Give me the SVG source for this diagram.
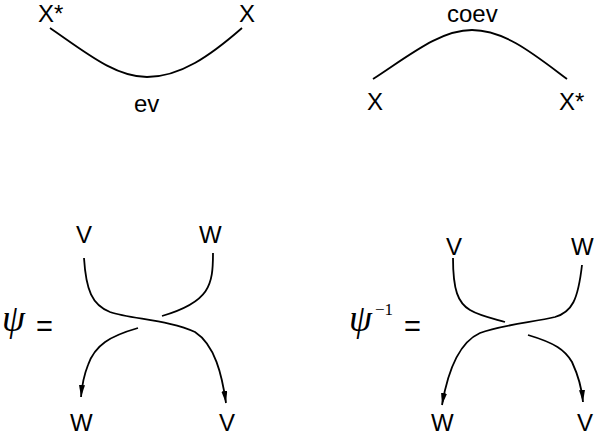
<svg xmlns="http://www.w3.org/2000/svg" width="594" height="437" viewBox="0 0 594 437">
<style>
.lbl{font-family:"Liberation Sans",Arial,sans-serif;font-size:24px;fill:#000}
.psi{font-family:"Liberation Serif","Times New Roman",serif;font-style:italic;font-size:37px;fill:#000}
.eq{font-family:"Liberation Sans",Arial,sans-serif;font-size:29px;fill:#000}
.sup{font-family:"Liberation Serif","Times New Roman",serif;font-size:17px;fill:#000}
.str{fill:none;stroke:#000;stroke-width:1.8;stroke-linecap:butt}
</style>
<defs>
<marker id="arr" markerUnits="userSpaceOnUse" markerWidth="13" markerHeight="7" refX="12" refY="3" orient="auto">
<path d="M0,0 L12,3 L0,6 z" fill="#000"/>
</marker>
</defs>
<g id="ev">
<text class="lbl" x="38" y="22">X*</text>
<text class="lbl" x="239" y="22">X</text>
<text class="lbl" x="134" y="112">ev</text>
</g>
<g id="coev">
<text class="lbl" x="447" y="22">coev</text>
<text class="lbl" x="367" y="110">X</text>
<text class="lbl" x="559" y="110">X*</text>
</g>
<g id="psi">
<text class="psi" x="2" y="331">ψ</text>
<text class="eq" x="36" y="336">=</text>
<text class="lbl" x="76" y="243">V</text>
<text class="lbl" x="199" y="243">W</text>
<text class="lbl" x="70" y="431">W</text>
<text class="lbl" x="219" y="431">V</text>
</g>
<g id="psi-inv">
<text class="psi" x="349" y="331">ψ</text>
<text class="sup" x="375" y="315">−1</text>
<text class="eq" x="404" y="336">=</text>
<text class="lbl" x="446" y="255">V</text>
<text class="lbl" x="571" y="255">W</text>
<text class="lbl" x="431" y="431">W</text>
<text class="lbl" x="577" y="431">V</text>
</g>
<g id="connectors">
<path class="str" d="M50,28 C85,52 115,77 147,77 C180,77 210,56 242,28"/>
<path class="str" d="M373,79 C410,55 440,30 472,30 C505,30 535,55 567,79"/>
<path class="str" d="M84,258 C86,290 92,305 110,312 C130,319 170,320 195,332 C215,345 222,375 226,403" marker-end="url(#arr)"/>
<path class="str" d="M213,253 C213,285 210,302 162,316"/>
<path class="str" d="M138,328 C110,336 95,345 88,365 C84,375 82,385 81,397" marker-end="url(#arr)"/>
<path class="str" d="M453,258 C453,290 458,303 470,310 C480,316 495,319 505,322"/>
<path class="str" d="M582,265 C578,300 572,312 555,317 C535,322 500,325 480,333 C460,342 448,370 442,405" marker-end="url(#arr)"/>
<path class="str" d="M528,335 C555,343 565,350 572,362 C578,375 582,390 583,402" marker-end="url(#arr)"/>
</g>
</svg>
